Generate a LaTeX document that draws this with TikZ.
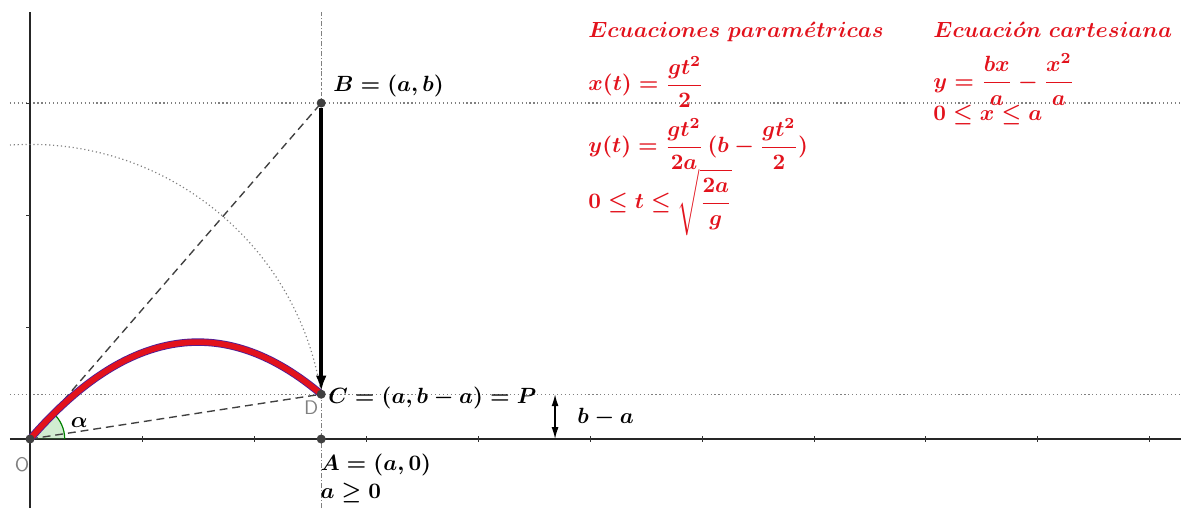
\documentclass[tikz,border=0pt]{standalone}
\usepackage{amsmath}
\usetikzlibrary{arrows.meta}
\definecolor{eqred}{RGB}{226,18,28}
\definecolor{ptgray}{RGB}{64,64,64}
\definecolor{curveedge}{RGB}{80,30,150}
\begin{document}
\begin{tikzpicture}[x=2cm,y=2cm,
  axis/.style={line width=0.9pt, black!85},
  guide/.style={line width=0.6pt, gray, dash pattern=on 0.6pt off 1.4pt},
  vguide/.style={line width=0.6pt, gray, dash pattern=on 2.5pt off 1pt on 0.6pt off 1pt},
  ray/.style={line width=0.7pt, black!75, dash pattern=on 4pt off 2.5pt},
  pt/.style={circle, fill=ptgray, inner sep=0pt, minimum size=4.6pt},
  eq/.style={text=eqred, anchor=west, inner sep=0pt, scale=1.12, font=\boldmath},
  lbl/.style={anchor=west, inner sep=0pt, scale=1.12, font=\boldmath},
  sflbl/.style={inner sep=0pt, text=gray, font=\sffamily},
  tick/.style={line width=0.5pt, black!80}]
\useasboundingbox (-0.268,-0.616) rectangle (10.277,3.920);
% guide lines
\draw[guide] (-0.18,3) -- (10.277,3);
\draw[guide] (-0.18,0.4) -- (10.277,0.4);
\draw[vguide] (2.6,-0.616) -- (2.6,3.81);
% axes
\draw[axis] (-0.18,0) -- (10.277,0);
\draw[axis] (0,-0.616) -- (0,3.81);
\foreach \k in {1,...,10} \draw[tick] (\k,-0.025) -- (\k,0.025);
\foreach \k in {1,2,3} \draw[tick] (-0.035,\k) -- (0,\k);
% points
\coordinate (Oc) at (0,0);
\coordinate (Ac) at (2.6,0);
\coordinate (Bc) at (2.6,3);
\coordinate (Cc) at (2.6,0.4);
% dotted arc
\draw[guide] (Cc) arc[start angle=8.746, end angle=93.9, radius=2.6306];
% angle
\fill[green!45!gray, opacity=0.25] (Oc) -- (0.31,0) arc[start angle=0, end angle=49.09, radius=0.31] -- cycle;
\draw[green!50!black, line width=0.6pt] (0.31,0) arc[start angle=0, end angle=49.09, radius=0.31];
% dashed rays
\draw[ray] (Oc) -- (Bc);
\draw[ray] (Oc) -- (Cc);
% trajectory
\draw[curveedge, line width=3.8pt] plot[domain=0:2.6, samples=80, smooth] (\x, {3*\x/2.6 - \x*\x/2.6});
\draw[eqred, line width=2.9pt] plot[domain=0:2.6, samples=80, smooth] (\x, {3*\x/2.6 - \x*\x/2.6});
% points as nodes
\node[pt] (O) at (Oc) {};
\node[pt] (A) at (Ac) {};
\node[pt] (B) at (Bc) {};
\node[pt] (C) at (Cc) {};
% arrow B -> C
\draw[line width=1.8pt, -{Latex[length=8pt,width=5.5pt]}, shorten >=-1pt] (B) -- (C);
% b-a double arrow
\coordinate (ba1) at (4.688,0.4);
\coordinate (ba0) at (4.688,0);
\draw[line width=0.7pt, {Latex[length=6pt,width=3.5pt]}-{Latex[length=6pt,width=3.5pt]}] (ba1) -- (ba0);
% labels
\node[lbl, anchor=base west] (Bl) at (2.705,3.10) {$B=(a,b)$};
\node[lbl] (Cl) at (2.66,0.37) {$C=(a,b-a)=P$};
\node[lbl] (Al) at (2.59,-0.232) {$A=(a,0)$};
\node[lbl] (al) at (2.59,-0.48) {$a\geq 0$};
\node[lbl] (bal) at (4.884,0.19) {$b-a$};
\node[lbl] (alp) at (0.36,0.15) {$\alpha$};
\node[sflbl] (Ol) at (-0.07,-0.23) {O};
\node[sflbl] (Dl) at (2.51,0.28) {D};
% equations
\node[eq, anchor=base west] (t1) at (4.982,3.589) {$Ecuaciones\ param\acute{e}tricas$};
\node[eq, anchor=base west] (t2) at (8.063,3.589) {$Ecuaci\acute{o}n\ cartesiana$};
\node[eq] (e1) at (4.982,3.19) {$x(t)=\dfrac{gt^2}{2}$};
\node[eq] (e2) at (4.982,2.634) {$y(t)=\dfrac{gt^2}{2a}\,(b-\dfrac{gt^2}{2})$};
\node[eq] (e3) at (4.982,2.11) {$0\leq t\leq \sqrt{\dfrac{2a}{g}}$};
\node[eq] (e4) at (8.063,3.21) {$y=\dfrac{bx}{a}-\dfrac{x^2}{a}$};
\node[eq] (e5) at (8.063,2.89) {$0\leq x\leq a$};
\end{tikzpicture}
\end{document}
